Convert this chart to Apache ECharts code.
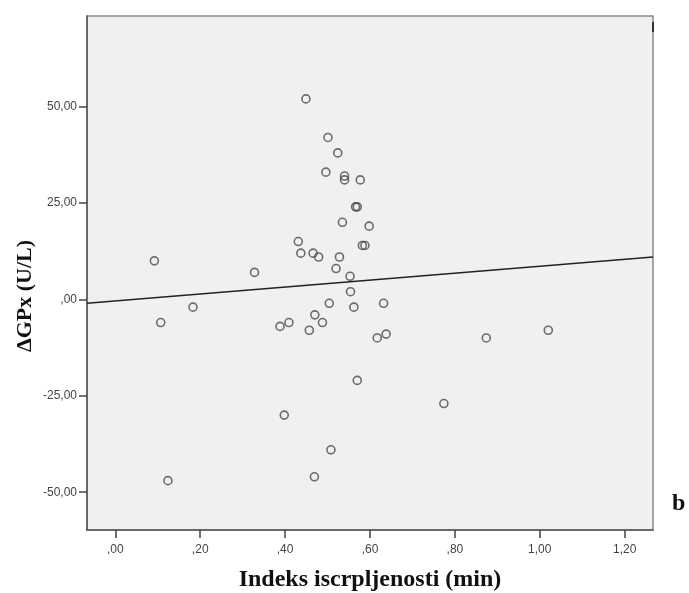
<!DOCTYPE html>
<html>
<head>
<meta charset="utf-8">
<script src="https://cdn.jsdelivr.net/npm/echarts@6/dist/echarts.min.js"></script>
<style>
  html, body { margin: 0; padding: 0; background: #ffffff; }
  #chart { width: 689px; height: 593px; }
</style>
</head>
<body>
<div id="chart"></div>
<script>
// Exhaustion index (min) per subject
const exhaustionIndex = [
  0.092, 0.107, 0.124, 0.183, 0.328, 0.388, 0.398, 0.409, 0.431, 0.437,
  0.449, 0.457, 0.466, 0.469, 0.470, 0.479, 0.488, 0.496, 0.501, 0.504,
  0.508, 0.520, 0.524, 0.528, 0.535, 0.540, 0.540, 0.553, 0.554, 0.562,
  0.566, 0.570, 0.570, 0.577, 0.582, 0.588, 0.598, 0.617, 0.632, 0.638,
  0.774, 0.874, 1.020
];
// Change in GPx activity (U/L) per subject
const deltaGPx = [
  10, -6, -47, -2, 7, -7, -30, -6, 15, 12,
  52, -8, 12, -46, -4, 11, -6, 33, 42, -1,
  -39, 8, 38, 11, 20, 32, 31, 6, 2, -2,
  24, 24, -21, 31, 14, 14, 19, -10, -1, -9,
  -27, -10, -8
];
const xTicks = [0, 0.2, 0.4, 0.6, 0.8, 1.0, 1.2];
const yTicks = [-50, -25, 0, 25, 50];
const xRange = [-0.0667, 1.2667];
const yRange = [-59.8, 73.5];

// Least-squares fit line
const n = exhaustionIndex.length;
const mx = exhaustionIndex.reduce((a, b) => a + b, 0) / n;
const my = deltaGPx.reduce((a, b) => a + b, 0) / n;
let sxy = 0, sxx = 0;
for (let i = 0; i < n; i++) {
  sxy += (exhaustionIndex[i] - mx) * (deltaGPx[i] - my);
  sxx += (exhaustionIndex[i] - mx) * (exhaustionIndex[i] - mx);
}
const slope = sxy / sxx;
const intercept = my - slope * mx;
const fitLine = xRange.map(x => [x, intercept + slope * x]);

// SPSS-style number format: comma decimal, no leading zero
function fmt(v) {
  let s = Math.abs(v).toFixed(2).replace('.', ',');
  if (s.startsWith('0,')) s = s.slice(1);
  return (v < 0 ? '-' : '') + s;
}

const chart = echarts.init(document.getElementById('chart'), null, { renderer: 'canvas' });
chart.setOption({
  animation: false,
  backgroundColor: '#ffffff',
  grid: {
    left: 87, right: 36, top: 16, bottom: 63,
    containLabel: false, outerBoundsMode: 'none',
    show: true, backgroundColor: '#f0f0f0', borderColor: '#8a8a8a', borderWidth: 1.5
  },
  xAxis: {
    type: 'value',
    min: xRange[0], max: xRange[1],
    name: 'Indeks iscrpljenosti (min)',
    nameLocation: 'middle', nameGap: 38, nameMoveOverlap: false,
    nameTextStyle: { fontFamily: 'Liberation Serif', fontWeight: 'bold', fontSize: 24, color: '#111' },
    splitLine: { show: false },
    axisLine: { onZero: false, lineStyle: { color: '#555', width: 1.5 } },
    axisTick: { show: true, customValues: xTicks, length: 8, lineStyle: { color: '#444', width: 1.5 } },
    axisLabel: {
      customValues: xTicks, formatter: fmt, margin: 14,
      fontFamily: 'Liberation Sans', fontSize: 12, color: '#444'
    }
  },
  yAxis: {
    type: 'value',
    min: yRange[0], max: yRange[1],
    splitLine: { show: false },
    axisLine: { onZero: false, lineStyle: { color: '#555', width: 1.5 } },
    axisTick: { show: true, customValues: yTicks, length: 8, lineStyle: { color: '#444', width: 1.5 } },
    axisLabel: {
      customValues: yTicks, formatter: fmt, margin: 10,
      fontFamily: 'Liberation Sans', fontSize: 12, color: '#444'
    }
  },
  series: [
    {
      type: 'scatter',
      data: exhaustionIndex.map((x, i) => [x, deltaGPx[i]]),
      symbol: 'circle', symbolSize: 8,
      itemStyle: { color: 'rgba(0,0,0,0)', borderColor: '#4a4a4a', borderWidth: 1.6 },
      z: 3
    },
    {
      type: 'line',
      data: fitLine,
      symbol: 'none',
      lineStyle: { color: '#222', width: 1.5 },
      z: 2
    }
  ],
  graphic: [
    {
      // y-axis title, set slightly below the axis midpoint
      type: 'text', x: 25, y: 296, rotation: Math.PI / 2,
      style: {
        text: 'ΔGPx (U/L)', fontFamily: 'Liberation Serif', fontWeight: 'bold', fontSize: 22,
        fill: '#111', align: 'center', verticalAlign: 'middle'
      }
    },
    {
      type: 'text', left: 672, top: 492,
      style: { text: 'b', fontFamily: 'Liberation Serif', fontWeight: 'bold', fontSize: 24, fill: '#111' }
    },
    {
      type: 'rect', shape: { x: 652, y: 22, width: 2, height: 10 },
      style: { fill: '#333' }
    }
  ]
});
</script>
</body>
</html>
